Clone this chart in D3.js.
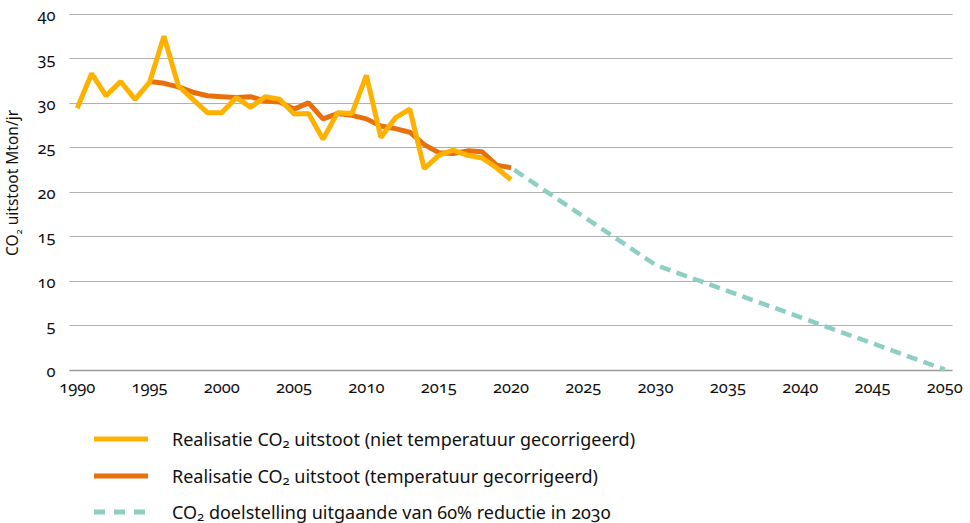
<!DOCTYPE html>
<html>
<head>
<meta charset="utf-8">
<script src="https://cdn.jsdelivr.net/npm/d3@7"></script>
<style>
  html, body { margin: 0; padding: 0; background: #fff; }
  svg { display: block; font-family: "Noto Sans", "Open Sans", sans-serif; font-feature-settings: "onum" 1; font-variant-numeric: oldstyle-nums; }
</style>
</head>
<body>
<svg id="chart" width="970" height="523"></svg>
<script>
// ---- data ----
const realYears = [1990,1991,1992,1993,1994,1995,1996,1997,1998,1999,2000,2001,2002,2003,2004,2005,2006,2007,2008,2009,2010,2011,2012,2013,2014,2015,2016,2017,2018,2019,2020];
const uncorrected = [29.4,33.3,30.8,32.4,30.4,32.3,37.5,31.9,30.4,28.9,28.9,30.6,29.5,30.7,30.4,28.75,28.8,25.9,28.9,28.8,33.1,26.1,28.3,29.3,22.6,24.1,24.7,24.1,23.8,22.7,21.35];
const corrYears = [1995,1996,1997,1998,1999,2000,2001,2002,2003,2004,2005,2006,2007,2008,2009,2010,2011,2012,2013,2014,2015,2016,2017,2018,2019,2020];
const corrected = [32.4,32.2,31.8,31.2,30.8,30.7,30.6,30.7,30.2,30.1,29.3,30.0,28.2,28.8,28.6,28.2,27.4,27.1,26.7,25.3,24.4,24.3,24.6,24.5,23.0,22.7];
const targetYears = [2020, 2030, 2050];
const target = [22.7, 11.76, 0];
const xTicks = [1990,1995,2000,2005,2010,2015,2020,2025,2030,2035,2040,2045,2050];
const yTicks = [0,5,10,15,20,25,30,35,40];
const legendItems = [
  {pre: "Realisatie CO", sub: "2", post: " uitstoot (niet temperatuur gecorrigeerd)", key: "unc"},
  {pre: "Realisatie CO", sub: "2", post: " uitstoot (temperatuur gecorrigeerd)", key: "cor"},
  {pre: "CO", sub: "2", post: " doelstelling uitgaande van 60% reductie in 2030", key: "tgt"}
];
const colors = {unc: "#ffb100", cor: "#e8700c", tgt: "#8dcfc2"};

// ---- layout ----
const svg = d3.select("#chart");
const gridLeft = 69.5, gridRight = 952.5;
const x = d3.scaleLinear().domain([1990, 2050]).range([77.2, 944.8]);
const y = d3.scaleLinear().domain([0, 40]).range([369.5, 14]);
const textColor = "#111";

// gridlines
svg.append("g").selectAll("line").data(yTicks).join("line")
  .attr("x1", gridLeft).attr("x2", gridRight)
  .attr("y1", d => Math.round(y(d)) + 0.5).attr("y2", d => Math.round(y(d)) + 0.5)
  .attr("stroke", d => d === 0 ? "#9a9a9a" : "#b0b0b0")
  .attr("stroke-width", d => d === 0 ? 1.6 : 1.2);

// y tick labels
svg.append("g").selectAll("text").data(yTicks).join("text")
  .attr("x", 55.5).attr("y", d => y(d) + 7)
  .attr("text-anchor", "end")
  .attr("font-size", 16.5).attr("fill", textColor)
  .text(d => d);

// x tick labels
svg.append("g").selectAll("text").data(xTicks).join("text")
  .attr("x", d => x(d)).attr("y", 393)
  .attr("text-anchor", "middle")
  .attr("font-size", 16.5).attr("fill", textColor)
  .text(d => d);

// y title
const yt = svg.append("text")
  .attr("transform", "translate(18,183) rotate(-90)")
  .attr("text-anchor", "middle")
  .attr("font-size", 15.5).attr("fill", textColor);
yt.append("tspan").text("CO");
yt.append("tspan").attr("font-size", 9.5).attr("dy", 4).text("2");
yt.append("tspan").attr("dy", -4).text(" uitstoot Mton/jr");

// lines
const line = d3.line().x(d => x(d[0])).y(d => y(d[1]));
svg.append("path")
  .attr("d", line(corrYears.map((yr, i) => [yr, corrected[i]])))
  .attr("fill", "none").attr("stroke", colors.cor).attr("stroke-width", 5)
  .attr("stroke-linejoin", "bevel");
svg.append("path")
  .attr("d", line(realYears.map((yr, i) => [yr, uncorrected[i]])))
  .attr("fill", "none").attr("stroke", colors.unc).attr("stroke-width", 5)
  .attr("stroke-linejoin", "bevel");
svg.append("path")
  .attr("d", line(targetYears.map((yr, i) => [yr, target[i]])))
  .attr("fill", "none").attr("stroke", colors.tgt).attr("stroke-width", 4.5)
  .attr("stroke-dasharray", "11,6.5").attr("stroke-dashoffset", -4)
  .attr("stroke-linejoin", "bevel");

// legend
const legY = [439, 476, 512];
const lg = svg.append("g");
legendItems.forEach((it, i) => {
  const ly = legY[i];
  const l = lg.append("line")
    .attr("x1", 94).attr("x2", 148).attr("y1", ly).attr("y2", ly)
    .attr("stroke", colors[it.key]).attr("stroke-width", 5);
  if (it.key === "tgt") l.attr("stroke-dasharray", "11,9");
  const t = lg.append("text").attr("x", 172).attr("y", ly + 6.5)
    .attr("font-size", 18).attr("fill", textColor);
  t.append("tspan").text(it.pre);
  t.append("tspan").attr("font-size", 13).attr("dy", 2).text(it.sub);
  t.append("tspan").attr("dy", -2).text(it.post);
});
</script>
</body>
</html>
